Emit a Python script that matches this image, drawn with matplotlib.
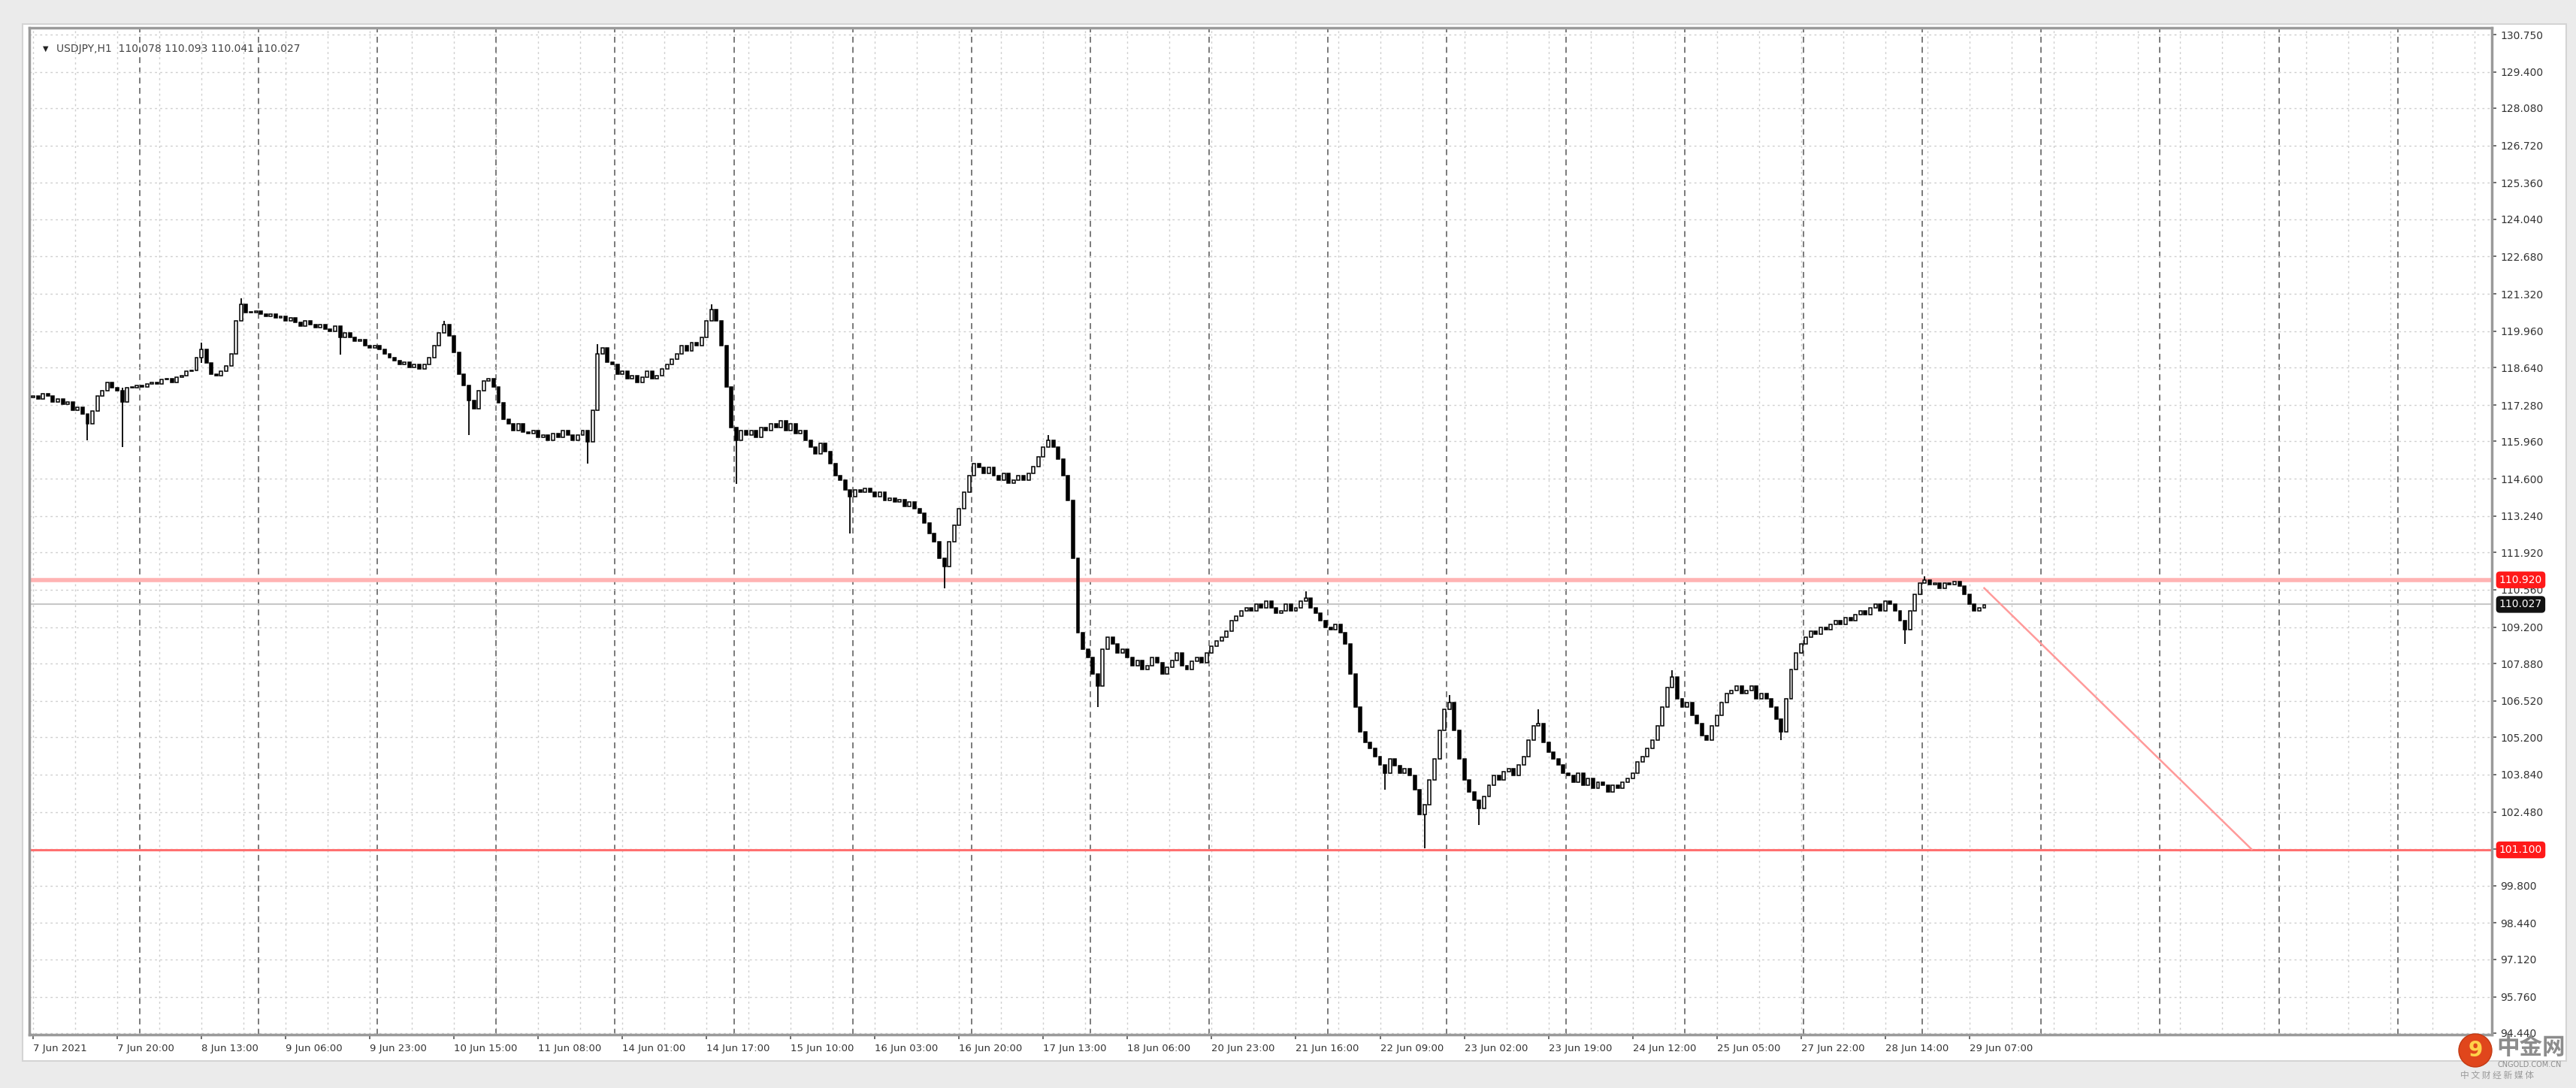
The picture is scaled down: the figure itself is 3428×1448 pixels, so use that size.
import numpy as np
import matplotlib.pyplot as plt
from matplotlib.patches import Rectangle, Circle
from matplotlib.transforms import blended_transform_factory

# hourly closes, one per bar
closes = [
    117.6, 117.5, 117.7, 117.6, 117.4, 117.5, 117.3, 117.4, 117.1, 117.2,
    116.95, 116.6, 117.05, 117.6, 117.8, 118.1, 117.9, 117.8, 117.4, 117.9,
    117.9, 118.0, 117.95, 118.05, 118.1, 118.05, 118.2, 118.25, 118.1, 118.3,
    118.35, 118.5, 118.55, 119.0, 119.3, 118.8, 118.4, 118.35, 118.5, 118.7,
    119.15, 120.35, 120.95, 120.65, 120.65, 120.7, 120.6, 120.5, 120.6, 120.45,
    120.5, 120.35, 120.45, 120.3, 120.15, 120.35, 120.2, 120.1, 120.2, 120.05,
    119.95, 120.15, 119.75, 119.9, 119.75, 119.6, 119.65, 119.45, 119.35, 119.45,
    119.3, 119.15, 119.0, 118.9, 118.75, 118.85, 118.65, 118.75, 118.6, 118.75,
    119.0, 119.45, 119.9, 120.2, 119.8, 119.2, 118.4, 118.0, 117.45, 117.15,
    117.8, 118.15, 118.25, 117.95, 117.35, 116.75, 116.6, 116.35, 116.6, 116.3,
    116.25, 116.35, 116.1, 116.2, 116.0, 116.25, 116.1, 116.35, 116.2, 116.0,
    116.2, 116.35, 115.95, 117.1, 119.15, 119.35, 118.85, 118.75, 118.4, 118.5,
    118.25, 118.35, 118.1, 118.3, 118.5, 118.25, 118.35, 118.6, 118.75, 118.95,
    119.15, 119.45, 119.25, 119.55, 119.45, 119.75, 120.35, 120.75, 120.35, 119.45,
    117.95, 116.45, 116.0, 116.35, 116.2, 116.35, 116.1, 116.45, 116.35, 116.6,
    116.45, 116.7, 116.35, 116.6, 116.25, 116.35, 116.0, 115.75, 115.5, 115.9,
    115.6, 115.15, 114.7, 114.55, 114.2, 113.95, 114.2, 114.1, 114.25, 114.1,
    113.95, 114.1, 113.8, 113.9, 113.75, 113.85, 113.6, 113.75, 113.5, 113.35,
    113.0, 112.6, 112.3, 111.7, 111.4, 112.3, 112.9, 113.5, 114.1, 114.7,
    115.15, 115.0, 114.8, 115.0, 114.7, 114.55, 114.8, 114.45, 114.55, 114.7,
    114.55, 114.8, 115.05, 115.4, 115.75, 116.0, 115.75, 115.3, 114.7, 113.8,
    111.7, 109.0, 108.4, 108.1, 107.5, 107.05, 108.4, 108.85, 108.6, 108.25,
    108.4, 108.1, 107.8, 108.0, 107.65, 107.8, 108.1, 107.9, 107.5, 107.75,
    108.0, 108.25, 107.8, 107.65, 107.95, 108.1, 107.9, 108.25, 108.5, 108.7,
    108.85, 109.05, 109.45, 109.6, 109.8, 109.9, 109.8, 110.05, 109.9, 110.15,
    109.9, 109.7, 109.8, 110.05, 109.8, 109.9, 110.15, 110.25, 109.9, 109.7,
    109.45, 109.2, 109.1, 109.3, 109.0, 108.6, 107.5, 106.3, 105.4, 105.0,
    104.8, 104.5, 104.2, 103.9, 104.4, 104.15, 103.9, 104.05, 103.8, 103.3,
    102.4, 102.75, 103.65, 104.4, 105.45, 106.2, 106.45, 105.45, 104.4, 103.65,
    103.2, 102.9, 102.6, 103.05, 103.45, 103.8, 103.65, 103.95, 104.05, 103.8,
    104.2, 104.5, 105.1, 105.6, 105.7, 105.0, 104.65, 104.4, 104.2, 103.9,
    103.8, 103.55, 103.9, 103.45, 103.7, 103.35, 103.55, 103.45, 103.2, 103.45,
    103.35, 103.55, 103.7, 103.9, 104.3, 104.5, 104.8, 105.1, 105.6, 106.3,
    107.0, 107.4, 106.6, 106.3, 106.45, 106.0, 105.7, 105.25, 105.1, 105.6,
    106.0, 106.45, 106.8, 106.9, 107.05, 106.8, 106.9, 107.05, 106.6, 106.8,
    106.6, 106.3, 105.85, 105.4, 106.6, 107.65, 108.25, 108.6, 108.85, 109.05,
    108.95, 109.2, 109.1, 109.3, 109.45, 109.3, 109.55, 109.45, 109.65, 109.8,
    109.65, 109.9, 110.05, 109.8, 110.15, 110.05, 109.8, 109.45, 109.1, 109.8,
    110.4, 110.8, 110.9, 110.75, 110.8, 110.6, 110.8, 110.75, 110.85, 110.7,
    110.4, 110.05, 109.8, 109.9, 110.02,
]
first_open = 117.55

# visible long wicks: bar -> (high, low)
spikes = {
    11: (116.95, 116.0), 18: (117.9, 115.76), 34: (119.55, 118.8),
    42: (121.15, 120.35), 62: (120.15, 119.1), 83: (120.35, 119.9),
    88: (118.0, 116.2), 112: (116.35, 115.15), 114: (119.5, 117.1),
    137: (120.95, 120.35), 142: (116.45, 114.4), 165: (114.2, 112.6),
    184: (111.7, 110.6), 205: (116.2, 115.75), 215: (107.5, 106.3),
    257: (110.5, 110.15), 273: (104.2, 103.3), 281: (102.75, 101.15),
    286: (106.73, 106.2), 292: (102.9, 102.0), 304: (106.2, 105.6),
    331: (107.63, 107.0), 353: (105.85, 105.1), 378: (109.45, 108.6),
    382: (111.05, 110.8),
}

price_labels = ["130.750", "129.400", "128.080", "126.720", "125.360", "124.040",
                "122.680", "121.320", "119.960", "118.640", "117.280", "115.960",
                "114.600", "113.240", "111.920", "110.560", "109.200", "107.880",
                "106.520", "105.200", "103.840", "102.480", "101.120", "99.800",
                "98.440", "97.120", "95.760", "94.440"]
time_labels = ["7 Jun 2021", "7 Jun 20:00", "8 Jun 13:00", "9 Jun 06:00", "9 Jun 23:00",
               "10 Jun 15:00", "11 Jun 08:00", "14 Jun 01:00", "14 Jun 17:00",
               "15 Jun 10:00", "16 Jun 03:00", "16 Jun 20:00", "17 Jun 13:00",
               "18 Jun 06:00", "20 Jun 23:00", "21 Jun 16:00", "22 Jun 09:00",
               "23 Jun 02:00", "23 Jun 19:00", "24 Jun 12:00", "25 Jun 05:00",
               "27 Jun 22:00", "28 Jun 14:00", "29 Jun 07:00"]
label_step = 17

resistance = 110.92
support = 101.10
last_price = 110.027
trend_x = [394, 448]
trend_y = [110.62, 101.12]
title = "USDJPY,H1  110.078 110.093 110.041 110.027"

W, H = 3428, 1448
fig = plt.figure(figsize=(W / 100, H / 100), dpi=100, facecolor="#ebebeb")
fig.add_artist(Rectangle((30, H - 1412), 3385, 1380, transform=None,
                         facecolor="white", edgecolor="#d4d4d4", lw=1.5, zorder=0))

ax = fig.add_axes([39 / W, 1 - 1377 / H, (3316 - 39) / W, (1377 - 37) / H])
ax.set_facecolor("white")

n = len(closes)
x = np.arange(n)
c = np.array(closes)
o = np.array([first_open] + closes[:-1])
hi = np.maximum(o, c)
lo = np.minimum(o, c)
for b, (h, l) in spikes.items():
    hi[b] = max(hi[b], h)
    lo[b] = min(lo[b], l)

ax.vlines(x, lo, hi, color="black", lw=1.3, zorder=3)
up = c >= o
body_h = np.maximum(np.abs(c - o), 0.03)
ax.bar(x[up], body_h[up], bottom=np.minimum(o, c)[up], width=0.6,
       color="white", edgecolor="black", lw=1.1, zorder=4)
ax.bar(x[~up], body_h[~up], bottom=np.minimum(o, c)[~up], width=0.6,
       color="black", edgecolor="black", lw=1.1, zorder=4)

ax.set_xlim(-0.76, 496.5)
ax.set_ylim(94.38, 131.0)

# grid: light dotted lines, darker dashed day separators
for gx in np.arange(0, 500, label_step / 2):
    ax.axvline(gx, color="#cfcfcf", lw=1, ls=(0, (2, 3)), zorder=1)
for dx in range(22, 500, 24):
    ax.axvline(dx - 0.5, color="#7a7a7a", lw=1.4, ls=(0, (4, 3)), zorder=1)
ticks = [float(t) for t in price_labels]
for ty in ticks:
    ax.axhline(ty, color="#cfcfcf", lw=1, ls=(0, (2, 3)), zorder=1)

ax.axhline(resistance, color="#ffb3b3", lw=4, zorder=2)
ax.axhline(support, color="#ff7070", lw=2.2, zorder=2)
ax.axhline(last_price, color="#c8c8c8", lw=1.5, zorder=2)
ax.plot(trend_x, trend_y, color="#ff9a9a", lw=1.8, zorder=2)

ax.yaxis.tick_right()
ax.set_yticks(ticks)
ax.set_yticklabels(price_labels, fontsize=10, color="#333333")
ax.set_xticks(np.arange(len(time_labels)) * label_step)
ax.set_xticklabels(time_labels, fontsize=9.5, color="#333333", ha="left")
ax.tick_params(axis="both", length=4, width=1.2, color="#555555", pad=4)
ax.tick_params(axis="x", pad=5)
for s in ax.spines.values():
    s.set_color("#9a9a9a")
    s.set_linewidth(2.5)

tr = blended_transform_factory(ax.transAxes, ax.transData)
for val, txt, bg in [(resistance, "110.920", "#ff1a1a"),
                     (support, "101.100", "#ff1a1a"),
                     (last_price, "110.027", "#111111")]:
    ax.text(1.003, val, txt, transform=tr, fontsize=10, color="white",
            va="center", ha="left", clip_on=False, zorder=20,
            bbox=dict(boxstyle="round,pad=0.25,rounding_size=0.3", fc=bg, ec=bg))

ax.text(0.0055, 1 - 28 / 1340, "\u25bc", transform=ax.transAxes, fontsize=7,
        color="#222222", va="center")
ax.text(0.011, 1 - 28 / 1340, title, transform=ax.transAxes, fontsize=10,
        color="#444444", va="center")

# watermark
cjk = ["Noto Sans CJK SC", "DejaVu Sans"]
fig.add_artist(Circle((3294, H - 1398), 22, transform=None, facecolor="#e0461c",
                      edgecolor="#c23a14", zorder=30))
fig.text(3294 / W, 1 - 1398 / H, "9", fontsize=20, fontweight="bold",
         color="#ffd24a", ha="center", va="center", zorder=31)
fig.text(3322 / W, 1 - 1394 / H, "中金网", fontsize=22, fontweight="bold",
         color="#8c8c8c", family=cjk, ha="left", va="center", zorder=31)
fig.text(3323 / W, 1 - 1417 / H, "CNGOLD.COM.CN", fontsize=7, color="#8c8c8c",
         ha="left", va="center", zorder=31)
fig.text(3274 / W, 1 - 1431 / H, "中 文 财 经 新 媒 体", fontsize=8.5, color="#9a9a9a",
         family=cjk, ha="left", va="center", zorder=31)

fig.savefig("out.png", dpi=100, facecolor=fig.get_facecolor())
